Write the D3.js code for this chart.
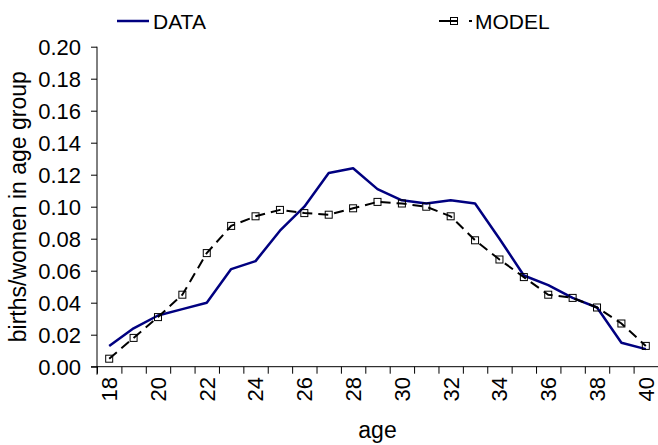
<!DOCTYPE html>
<html>
<head>
<meta charset="utf-8">
<script src="https://cdn.jsdelivr.net/npm/d3@7"></script>
<style>
  body { margin: 0; background: #fff; }
  text { font-family: "Liberation Sans", Arial, sans-serif; }
</style>
</head>
<body>
<div id="chart"></div>
<script>
const width = 658
const height = 445

// ages (categories)
const ages = [18, 19, 20, 21, 22, 23, 24, 25, 26, 27, 28, 29, 30, 31, 32, 33, 34, 35, 36, 37, 38, 39, 40];
// observed births/women
const dataValues = [0.013, 0.024, 0.032, 0.036, 0.040, 0.061, 0.066, 0.085, 0.100, 0.121, 0.124, 0.111,
  0.104, 0.102, 0.104, 0.102, 0.080, 0.057, 0.051, 0.043, 0.037, 0.015, 0.011];
// model fit
const modelValues = [0.005, 0.018, 0.031, 0.045, 0.071, 0.088, 0.094, 0.098, 0.096, 0.095, 0.099, 0.103,
  0.102, 0.100, 0.094, 0.079, 0.067, 0.056, 0.045, 0.043, 0.037, 0.027, 0.013];
const yTicks = [0, 0.02, 0.04, 0.06, 0.08, 0.10, 0.12, 0.14, 0.16, 0.18, 0.20];
const xLabels = [18, 20, 22, 24, 26, 28, 30, 32, 34, 36, 38, 40];

const plot = { left: 97, right: 658, top: 46.7, bottom: 366.7 };

const svg = d3.select("#chart")
  .append("svg")
  .attr("width", width)
  .attr("height", height)

const x = d3.scaleLinear()
  .domain([ages[0] - 0.5, ages[ages.length - 1] + 0.5])
  .range([plot.left, plot.right]);

const y = d3.scaleLinear()
  .domain([0, 0.2])
  .range([plot.bottom, plot.top]);

// y axis
const yAxis = svg.append("g")
  .attr("transform", `translate(${plot.left},0)`)
  .call(d3.axisLeft(y).tickValues(yTicks).tickSize(6).tickPadding(10).tickFormat(d3.format(".2f")));
yAxis.select(".domain").attr("d", `M0,${plot.top}V${plot.bottom + 8}`).attr("stroke", "#000");
yAxis.selectAll("text").attr("font-size", 22).attr("fill", "#000")
  .attr("font-family", "Liberation Sans, Arial").attr("dy", "0.36em");
yAxis.selectAll("line").attr("stroke", "#000");

// x axis boundary ticks
const bounds = ages.map(a => a - 0.5).concat([ages[ages.length - 1] + 0.5]);
const xAxis = svg.append("g")
  .attr("transform", `translate(0,${plot.bottom})`)
  .call(d3.axisBottom(x).tickValues(bounds).tickSize(7).tickFormat(""));
xAxis.select(".domain").attr("d", `M${plot.left - 6},0H${plot.right}`).attr("stroke", "#000");
xAxis.selectAll("line").attr("stroke", "#000");

// x labels, rotated
svg.append("g")
  .selectAll("text")
  .data(xLabels)
  .join("text")
  .attr("transform", d => `translate(${x(d)},377) rotate(-90)`)
  .attr("text-anchor", "end")
  .attr("dy", "0.36em")
  .attr("font-size", 22)
  .text(d => d);

// axis titles
svg.append("text")
  .attr("x", (plot.left + plot.right) / 2)
  .attr("y", 438)
  .attr("text-anchor", "middle")
  .attr("font-size", 23)
  .text("age");

svg.append("text")
  .attr("transform", `translate(26,${(plot.top + plot.bottom) / 2}) rotate(-90)`)
  .attr("text-anchor", "middle")
  .attr("font-size", 23)
  .text("births/women in age group");

// series
const line = d3.line()
  .x((d, i) => x(ages[i]))
  .y(d => y(d));

svg.append("path")
  .datum(dataValues)
  .attr("fill", "none")
  .attr("stroke", "#000080")
  .attr("stroke-width", 2.5)
  .attr("stroke-linejoin", "round")
  .attr("d", line);

svg.append("path")
  .datum(modelValues)
  .attr("fill", "none")
  .attr("stroke", "#000")
  .attr("stroke-width", 2)
  .attr("stroke-dasharray", "10,6")
  .attr("d", line);

svg.selectAll("rect.marker")
  .data(modelValues)
  .join("rect")
  .attr("class", "marker")
  .attr("x", (d, i) => x(ages[i]) - 3.5)
  .attr("y", d => y(d) - 3.5)
  .attr("width", 7)
  .attr("height", 7)
  .attr("fill", "none")
  .attr("stroke", "#000")
  .attr("stroke-width", 1);

// legend
const legend = svg.append("g");
legend.append("line")
  .attr("x1", 117).attr("x2", 149).attr("y1", 21).attr("y2", 21)
  .attr("stroke", "#000080").attr("stroke-width", 2.5);
legend.append("text")
  .attr("x", 153).attr("y", 29)
  .attr("font-size", 21)
  .text("DATA");

legend.append("line")
  .attr("x1", 439).attr("x2", 472).attr("y1", 21).attr("y2", 21)
  .attr("stroke", "#000").attr("stroke-width", 2)
  .attr("stroke-dasharray", "19,11,3");
legend.append("rect")
  .attr("x", 450.5).attr("y", 17.5).attr("width", 7).attr("height", 7)
  .attr("fill", "none").attr("stroke", "#000");
legend.append("text")
  .attr("x", 475).attr("y", 29)
  .attr("font-size", 21)
  .text("MODEL");
</script>
</body>
</html>
